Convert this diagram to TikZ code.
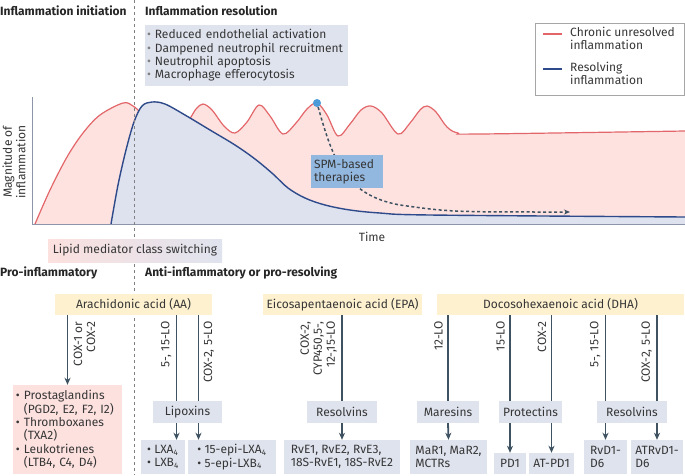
\documentclass[tikz,border=0pt]{standalone}
\usepackage{fontspec}
\setmainfont{Fira Sans}
\usetikzlibrary{arrows.meta,positioning,calc}

\definecolor{txt}{HTML}{363636}
\definecolor{redline}{HTML}{E3676A}
\definecolor{redfill}{HTML}{FDE2E0}
\definecolor{blueline}{HTML}{2E4A8B}
\definecolor{bluefill}{HTML}{DDE2EE}
\definecolor{boxgray}{HTML}{DFE3EE}
\definecolor{acidfill}{HTML}{FDF1D0}
\definecolor{pinkbox}{HTML}{FCE1DF}
\definecolor{spmfill}{HTML}{93B8DF}
\definecolor{chanc}{HTML}{3E5262}
\definecolor{axisc}{HTML}{8C96A8}
\definecolor{dotc}{HTML}{4A9BD8}

\newcommand\bulind{\phantom{\textbullet\ }}
\newcommand\gbul{{\color{gray}\textbullet}\ }
\newcommand\redcurve{plot[smooth,tension=0.55] coordinates {(35,224) (50,190) (67,157) (83,133) (100,115) (123,103) (133,106) (142,114) (155,128) (175,130) (188,121) (196,109) (203,104) (212,110) (224,126) (235,133) (247,122) (259,105) (270,116) (283,134) (296,123) (307,109) (317,103) (327,115) (338,136) (350,124) (361,110) (371,106) (382,113) (398,134) (410,123) (420,110) (427,106) (436,112) (447,127) (458,133) (480,134) (685,131)}}
\newcommand\bluecurve{plot[smooth,tension=0.55] coordinates {(111,224) (118,185) (126,150) (134,122) (142,106) (152,102) (165,104) (185,115) (210,130) (235,145) (255,159) (273,174) (288,188) (305,198) (325,205) (350,210) (380,213) (430,215) (685,217)}}

\begin{document}
\begin{tikzpicture}[x=1pt,y=-1pt,font=\fontsize{12}{13.3}\selectfont,text=txt,
  head/.style={font=\fontsize{12}{13}\selectfont\bfseries,text=black!85,anchor=west,inner sep=0pt},
  acid/.style={fill=acidfill,minimum height=21pt,inner sep=0pt},
  sub/.style={fill=boxgray,minimum height=22pt,inner sep=0pt},
  prod/.style={fill=boxgray,minimum height=34pt,inner sep=0pt,align=left},
  chan/.style={draw=chanc,line width=1.8pt},
  arr/.style={chan,-{Stealth[length=7pt,width=6pt,inset=2pt]}},
  enzl/.style={rotate=90,anchor=south east,align=right,inner sep=0pt,font=\fontsize{12}{13}\selectfont},
  enzr/.style={rotate=90,anchor=north east,align=right,inner sep=0pt,font=\fontsize{12}{13}\selectfont},
]
\useasboundingbox (0,0) rectangle (685,475);

% curves
\fill[redfill] \redcurve -- (685,224) -- cycle;
\draw[redline,line width=1.2pt] \redcurve;
\fill[bluefill] \bluecurve -- (685,224) -- cycle;
\draw[blueline,line width=1.4pt] \bluecurve;
\draw[axisc,line width=1pt] (32,97) -- (32,224) -- (685,224);
\draw[gray,dashed,line width=0.6pt] (134,0) -- (134,475);

\node[rotate=90,align=center] (ylab) at (14,162) {Magnitude of\\inflammation};
\node (tlab) at (372,237) {Time};

\node[circle,fill=dotc,minimum size=8pt,inner sep=0pt] (spmdot) at (317,103) {};
\coordinate (spmend) at (570,212);
\draw[chanc,line width=1.5pt,dash pattern=on 3pt off 2.5pt,-{Stealth[length=6pt,width=5pt]}]
  (spmdot) .. controls (333,160) and (345,195) .. (400,205) .. controls (450,212) .. (spmend);
\node[fill=spmfill,minimum width=72pt,minimum height=33pt,text width=66pt,inner xsep=3pt,align=left] (spm) at (347,171.5) {SPM-based\\therapies};

% headings
\node[head] (init) at (0,11) {Inflammation initiation};
\node[head] (resol) at (145,11) {Inflammation resolution};
\node[head] (proinf) at (0,273) {Pro-inflammatory};
\node[head] (antiinf) at (145,273) {Anti-inflammatory or pro-resolving};

\node[fill=boxgray,minimum width=203pt,minimum height=61pt,text width=199pt,inner xsep=2pt,align=left] (effects) at (246.5,55.5)
  {\gbul Reduced endothelial activation\\\gbul Dampened neutrophil recruitment\\\gbul Neutrophil apoptosis\\\gbul Macrophage efferocytosis};

% legend
\node[draw=gray!70,minimum width=149pt,minimum height=72pt] (legend) at (609.5,59) {};
\node[anchor=north west,align=left,inner sep=0pt] (lgchronic) at (570,27) {Chronic unresolved\\inflammation};
\node[anchor=north west,align=left,inner sep=0pt] (lgresolv) at (570,62) {Resolving\\inflammation};
\draw[redline,line width=1.2pt] ($(lgchronic.north west)+(-27,7)$) -- ++(19,0);
\draw[blueline,line width=1.4pt] ($(lgresolv.north west)+(-27,7)$) -- ++(19,0);

\node[left color=pinkbox,right color=boxgray,minimum width=174pt,minimum height=23pt,inner sep=0pt] (switch) at (135,250.5) {Lipid mediator class switching};

% lipid mediators
\node[acid,minimum width=157pt] (aa) at (133.5,304.5) {Arachidonic acid (AA)};
\node[acid,minimum width=159pt] (epa) at (342.5,304.5) {Eicosapentaenoic acid (EPA)};
\node[acid,minimum width=247pt] (dha) at (560.5,304.5) {Docosohexaenoic acid (DHA)};

\node[fill=pinkbox,minimum width=109pt,minimum height=89pt,text width=103pt,inner xsep=3pt,align=left] (pg) at (67.5,429.5)
  {\textbullet\ Prostaglandins\\\bulind(PGD2, E2, F2, I2)\\\textbullet\ Thromboxanes\\\bulind(TXA2)\\\textbullet\ Leukotrienes\\\bulind(LTB4, C4, D4)};

\node[sub,minimum width=69pt] (lipox) at (187.5,412) {Lipoxins};
\node[sub,minimum width=70pt] (rve) at (342,412) {Resolvins};
\node[sub,minimum width=62pt] (mar) at (448,412) {Maresins};
\node[sub,minimum width=63pt] (prot) at (530.5,412) {Protectins};
\node[sub,minimum width=70pt] (rvd) at (632,412) {Resolvins};

\node[prod,minimum width=44pt] (lxa) at (163,457) {\textbullet\ LXA\textsubscript{4}\\\textbullet\ LXB\textsubscript{4}};
\node[prod,minimum width=88pt] (epilx) at (232,457) {\textbullet\ 15-epi-LXA\textsubscript{4}\\\textbullet\ 5-epi-LXB\textsubscript{4}};
\node[prod,minimum width=116pt] (rvep) at (342,457) {RvE1, RvE2, RvE3,\\18S-RvE1, 18S-RvE2};
\node[prod,minimum width=77pt] (marp) at (448.5,457) {MaR1, MaR2,\\MCTRs};
\node[prod,minimum width=32pt,minimum height=21pt] (pd1) at (510,463.5) {PD1};
\node[prod,minimum width=45pt,minimum height=21pt] (atpd1) at (551.5,463.5) {AT-PD1};
\node[prod,minimum width=43pt] (rvdp) at (605.5,457) {RvD1-\\D6};
\node[prod,minimum width=52pt] (atrvd) at (657,457) {ATRvD1-\\D6};

% pathways
\draw[arr] (aa.south -| pg.north) -- (pg.north);
\node[enzr] (cox1) at ($(aa.south -| pg.north)+(6,6)$) {COX-1 or\\COX-2};

\coordinate (lx1) at ([xshift=-11pt]lipox.north);
\coordinate (lx2) at ([xshift=11pt]lipox.north);
\draw[chan] (lx1 |- aa.south) -- (lx1);
\draw[chan] (lx2 |- aa.south) -- (lx2);
\draw[arr] (lx1 |- lipox.south) -- (lx1 |- lxa.north);
\draw[arr] (lx2 |- lipox.south) -- (lx2 |- epilx.north);
\node[enzl] (lo515) at ($(lx1 |- aa.south)+(-5,6)$) {5-, 15-LO};
\node[enzr] (cox5lo) at ($(lx2 |- aa.south)+(5,6)$) {COX-2, 5-LO};

\draw[chan] (rve.north |- epa.south) -- (rve.north);
\draw[arr] (rve.south) -- (rvep.north);
\node[enzl] (epaenz) at ($(rve.north |- epa.south)+(-5,6)$) {COX-2,\\CYP450,5-,\\12-,15-LO};

\draw[chan] (mar.north |- dha.south) -- (mar.north);
\draw[arr] (mar.south) -- (marp.north);
\node[enzl] (lo12) at ($(mar.north |- dha.south)+(-5,6)$) {12-LO};

\draw[chan] (pd1.north |- dha.south) -- (pd1.north |- prot.north);
\draw[chan] (atpd1.north |- dha.south) -- (atpd1.north |- prot.north);
\draw[arr] (pd1.north |- prot.south) -- (pd1.north);
\draw[arr] (atpd1.north |- prot.south) -- (atpd1.north);
\node[enzl] (lo15) at ($(pd1.north |- dha.south)+(-5,6)$) {15-LO};
\node[enzl] (cox2) at ($(atpd1.north |- dha.south)+(-5,6)$) {COX-2};

\draw[chan] (rvdp.north |- dha.south) -- (rvdp.north |- rvd.north);
\draw[chan] (atrvd.north |- dha.south) -- (atrvd.north |- rvd.north);
\draw[arr] (rvdp.north |- rvd.south) -- (rvdp.north);
\draw[arr] (atrvd.north |- rvd.south) -- (atrvd.north);
\node[enzl] (dlo515) at ($(rvdp.north |- dha.south)+(-5,6)$) {5-, 15-LO};
\node[enzl] (dcox5lo) at ($(atrvd.north |- dha.south)+(-5,6)$) {COX-2, 5-LO};
\end{tikzpicture}
\end{document}
